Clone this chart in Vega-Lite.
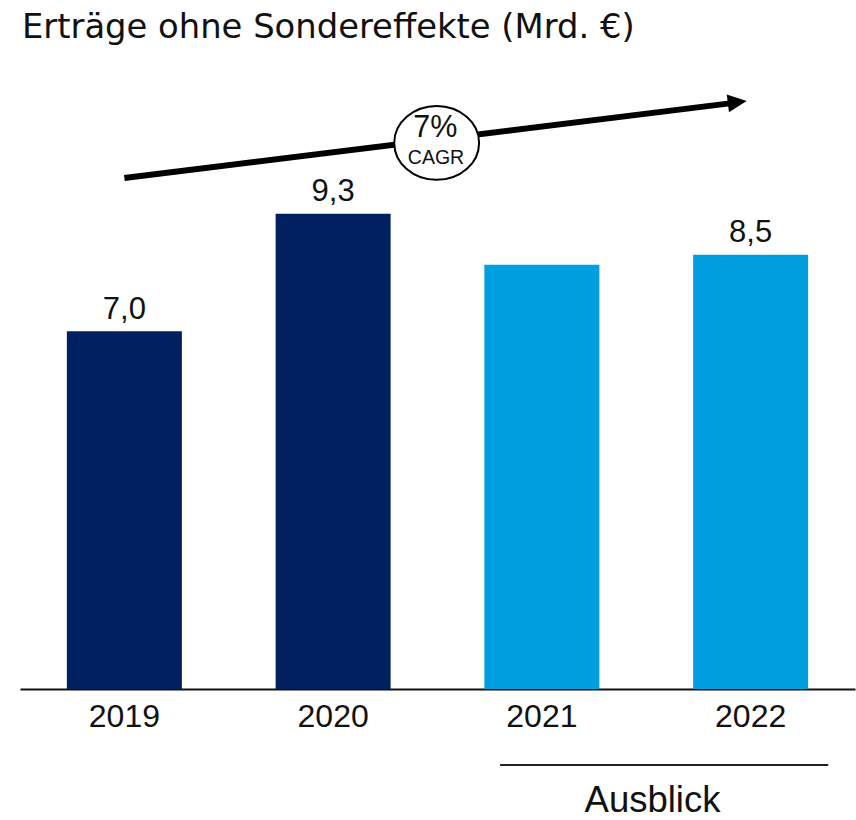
{
  "$schema": "https://vega.github.io/schema/vega-lite/v6.json",
  "width": 835,
  "height": 613.2,
  "autosize": {"type": "none"},
  "padding": {"left": 20, "top": 75.8, "right": 1, "bottom": 131},
  "background": "white",
  "title": {
    "text": "Erträge ohne Sondereffekte (Mrd. €)",
    "anchor": "start",
    "frame": "group",
    "font": "DejaVu Sans",
    "fontSize": 33.8,
    "fontWeight": "normal",
    "color": "#111111",
    "offset": 31,
    "dx": 2
  },
  "config": {"view": {"stroke": null}},
  "datasets": {
    "bars": [
      {"jahr": "2019", "wert": 7.0, "label": "7,0", "art": "Ist"},
      {"jahr": "2020", "wert": 9.3, "label": "9,3", "art": "Ist"},
      {"jahr": "2021", "wert": 8.3, "label": "", "art": "Ausblick"},
      {"jahr": "2022", "wert": 8.5, "label": "8,5", "art": "Ausblick"}
    ],
    "pfeil": [{"ax": 0.5, "ay": 10.0, "ax2": 3.40, "ay2": 11.46}],
    "spitze": [{"ax": 3.436, "ay": 11.483}],
    "kreis": [{"ax": 1.996, "ay": 10.687}],
    "pct": [{"ax": 1.99, "ay": 10.8, "t": "7%"}],
    "cagr": [{"ax": 1.993, "ay": 10.274, "t": "CAGR"}],
    "linie": [{"ax": 2.30, "ax2": 3.872, "ay": -1.487}],
    "ausblick": [{"ax": 3.03, "ay": -2.41, "t": "Ausblick"}]
  },
  "resolve": {"scale": {"x": "independent"}},
  "layer": [
    {
      "data": {"name": "bars"},
      "encoding": {
        "x": {
          "field": "jahr",
          "type": "nominal",
          "sort": null,
          "scale": {"paddingInner": 0.449, "paddingOuter": 0.2245},
          "axis": {
            "title": null,
            "labelAngle": 0,
            "labelFont": "Liberation Sans",
            "labelFontSize": 32,
            "labelColor": "#111111",
            "ticks": false,
            "labelPadding": 12,
            "domainColor": "#111111",
            "domainWidth": 2,
            "grid": false
          }
        },
        "y": {
          "field": "wert",
          "type": "quantitative",
          "scale": {"domain": [0, 12], "nice": false, "zero": false},
          "axis": null
        }
      },
      "layer": [
        {
          "mark": {"type": "bar"},
          "encoding": {
            "color": {
              "field": "art",
              "type": "nominal",
              "scale": {"domain": ["Ist", "Ausblick"], "range": ["#002060", "#00A0E0"]},
              "legend": null
            }
          }
        },
        {
          "mark": {"type": "text", "baseline": "alphabetic", "dy": -12.7, "font": "Liberation Sans", "fontSize": 31, "color": "#111111"},
          "encoding": {"text": {"field": "label"}}
        }
      ]
    },
    {
      "data": {"name": "pfeil"},
      "mark": {"type": "rule", "strokeWidth": 6, "color": "#000000", "strokeCap": "butt"},
      "encoding": {
        "x": {"field": "ax", "type": "quantitative", "scale": {"domain": [0, 4], "nice": false, "zero": false}, "axis": null},
        "x2": {"field": "ax2"},
        "y": {"field": "ay", "type": "quantitative", "scale": {"domain": [0, 12], "nice": false, "zero": false}, "axis": null},
        "y2": {"field": "ay2"}
      }
    },
    {
      "data": {"name": "spitze"},
      "mark": {"type": "point", "shape": "M1,0L-1,-0.95L-1,0.95Z", "filled": true, "color": "#000000", "opacity": 1, "size": 361, "angle": 352.9},
      "encoding": {
        "x": {"field": "ax", "type": "quantitative", "scale": {"domain": [0, 4], "nice": false, "zero": false}, "axis": null},
        "y": {"field": "ay", "type": "quantitative", "scale": {"domain": [0, 12], "nice": false, "zero": false}, "axis": null}
      }
    },
    {
      "data": {"name": "kreis"},
      "mark": {"type": "point", "shape": "M-1,0A1,0.87,0,1,1,1,0A1,0.87,0,1,1,-1,0Z", "filled": true, "fill": "#ffffff", "stroke": "#000000", "strokeWidth": 2, "opacity": 1, "size": 7200},
      "encoding": {
        "x": {"field": "ax", "type": "quantitative", "scale": {"domain": [0, 4], "nice": false, "zero": false}, "axis": null},
        "y": {"field": "ay", "type": "quantitative", "scale": {"domain": [0, 12], "nice": false, "zero": false}, "axis": null}
      }
    },
    {
      "data": {"name": "pct"},
      "mark": {"type": "text", "baseline": "alphabetic", "align": "center", "font": "Liberation Sans", "fontSize": 30.5, "color": "#111111"},
      "encoding": {
        "x": {"field": "ax", "type": "quantitative", "scale": {"domain": [0, 4], "nice": false, "zero": false}, "axis": null},
        "y": {"field": "ay", "type": "quantitative", "scale": {"domain": [0, 12], "nice": false, "zero": false}, "axis": null},
        "text": {"field": "t"}
      }
    },
    {
      "data": {"name": "cagr"},
      "mark": {"type": "text", "baseline": "alphabetic", "align": "center", "font": "Liberation Sans", "fontSize": 19.5, "color": "#111111"},
      "encoding": {
        "x": {"field": "ax", "type": "quantitative", "scale": {"domain": [0, 4], "nice": false, "zero": false}, "axis": null},
        "y": {"field": "ay", "type": "quantitative", "scale": {"domain": [0, 12], "nice": false, "zero": false}, "axis": null},
        "text": {"field": "t"}
      }
    },
    {
      "data": {"name": "linie"},
      "mark": {"type": "rule", "strokeWidth": 2, "color": "#222222"},
      "encoding": {
        "x": {"field": "ax", "type": "quantitative", "scale": {"domain": [0, 4], "nice": false, "zero": false}, "axis": null},
        "x2": {"field": "ax2"},
        "y": {"field": "ay", "type": "quantitative", "scale": {"domain": [0, 12], "nice": false, "zero": false}, "axis": null}
      }
    },
    {
      "data": {"name": "ausblick"},
      "mark": {"type": "text", "baseline": "alphabetic", "align": "center", "font": "Liberation Sans", "fontSize": 36.5, "color": "#111111"},
      "encoding": {
        "x": {"field": "ax", "type": "quantitative", "scale": {"domain": [0, 4], "nice": false, "zero": false}, "axis": null},
        "y": {"field": "ay", "type": "quantitative", "scale": {"domain": [0, 12], "nice": false, "zero": false}, "axis": null},
        "text": {"field": "t"}
      }
    }
  ]
}
